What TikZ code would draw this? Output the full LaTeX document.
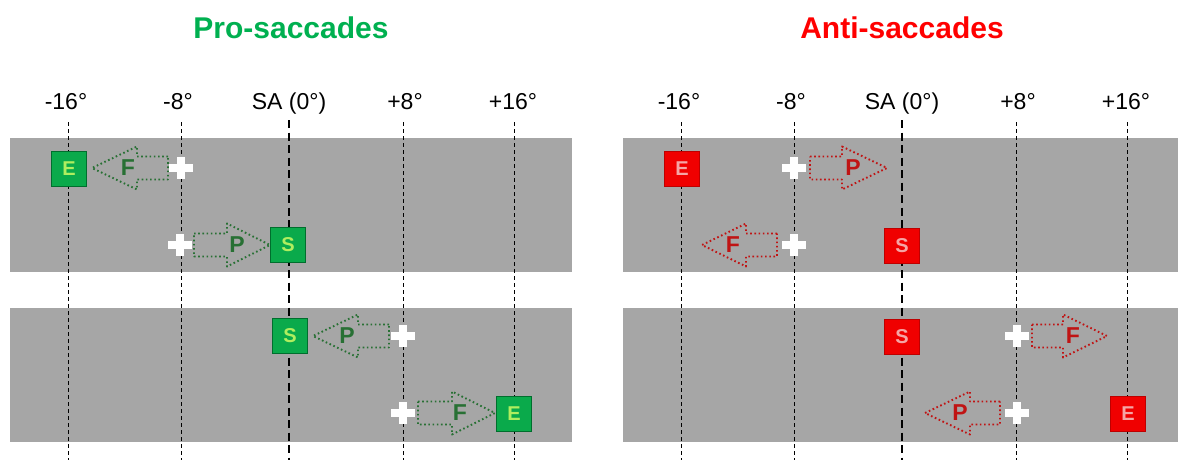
\documentclass[tikz,border=0pt]{standalone}
\usepackage{fontspec}
\setmainfont{Liberation Sans}
\definecolor{bandgray}{RGB}{166,166,166}
\definecolor{progreen}{RGB}{0,176,80}
\definecolor{sqgreen}{RGB}{10,170,75}
\definecolor{sqgreenborder}{RGB}{0,110,45}
\definecolor{lettergreen}{RGB}{175,238,95}
\definecolor{arrgreen}{RGB}{40,112,52}
\definecolor{antired}{RGB}{255,0,0}
\definecolor{sqred}{RGB}{240,0,0}
\definecolor{sqredborder}{RGB}{190,0,0}
\definecolor{letterred}{RGB}{245,165,165}
\definecolor{arrred}{RGB}{192,20,20}
\newcommand{\myBlockArrow}[5]{%
  \draw[#5] (#1,#4-11.5) -- (#2,#4-11.5) -- (#2,#4-21.5) -- (#3,#4)
    -- (#2,#4+21.5) -- (#2,#4+11.5) -- (#1,#4+11.5) -- cycle;}
\newcommand{\myPlus}[2]{%
  \fill[white] (#1-12,#2-4) rectangle (#1+12,#2+4);
  \fill[white] (#1-4,#2-11) rectangle (#1+4,#2+11);}
\tikzset{
  band/.style={fill=bandgray, draw=none},
  thinline/.style={black, line width=0.9pt, dash pattern=on 4pt off 3pt},
  saline/.style={black, line width=2.2pt, dash pattern=on 8pt off 4.5pt},
  axislabel/.style={font=\fontsize{23}{26}\selectfont, anchor=base, inner sep=0pt},
  title/.style={font=\fontsize{30}{34}\selectfont\bfseries, inner sep=0pt},
  gsq/.style={draw=sqgreenborder, line width=0.8pt, fill=sqgreen, minimum size=35pt, inner sep=0pt,
    text=lettergreen, font=\fontsize{20}{21}\selectfont\bfseries},
  rsq/.style={draw=sqredborder, line width=0.6pt, fill=sqred, minimum size=35pt, inner sep=0pt,
    text=letterred, font=\fontsize{20}{21}\selectfont\bfseries},
  garrow/.style={draw=arrgreen, line width=1.9pt, dash pattern=on 1.6pt off 2.6pt, line join=round},
  rarrow/.style={draw=arrred, line width=1.9pt, dash pattern=on 1.6pt off 2.6pt, line join=round},
  gletter/.style={text=arrgreen, font=\fontsize{23}{24}\selectfont\bfseries, inner sep=0pt},
  rletter/.style={text=arrred, font=\fontsize{23}{24}\selectfont\bfseries, inner sep=0pt},
}
\begin{document}
\begin{tikzpicture}[x=1pt,y=-1pt]
\useasboundingbox (0,0) rectangle (1178,460);
% ---------- titles ----------
\node[title, text=progreen] (tpro) at (291,28) {Pro-saccades};
\node[title, text=antired] (tanti) at (902,28) {Anti-saccades};
% ---------- bands ----------
\fill[band] (10,138) rectangle (572,272);
\fill[band] (10,308) rectangle (572,442);
\fill[band] (623,138) rectangle (1178,272);
\fill[band] (623,308) rectangle (1178,442);
% ---------- axis labels ----------
\foreach \o/\n in {0/L,613/R}{
  \node[axislabel] (m16\n) at (66+\o,109) {-16°};
  \node[axislabel] (m8\n) at (178+\o,109) {-8°};
  \node[axislabel] (sa\n) at (289+\o,109) {SA (0°)};
  \node[axislabel] (p8\n) at (405+\o,109) {+8°};
  \node[axislabel] (p16\n) at (513+\o,109) {+16°};
  \draw[thinline] (68+\o,122) -- (68+\o,460);
  \draw[thinline] (181+\o,122) -- (181+\o,460);
  \draw[saline] (289+\o,120) -- (289+\o,460);
  \draw[thinline] (403+\o,122) -- (403+\o,460);
  \draw[thinline] (514+\o,122) -- (514+\o,460);
}
% ---------- Pro-saccades ----------
\node[gsq] (gE1) at (69,169) {E};
\myBlockArrow{168}{137}{92}{168}{garrow}
\node[gletter] (gF1) at (128,168) {F};
\myPlus{181}{168}

\myPlus{180}{245}
\myBlockArrow{194}{227}{270}{245}{garrow}
\node[gletter] (gP2) at (237,245) {P};
\node[gsq] (gS2) at (288,245) {S};

\node[gsq] (gS3) at (290,336) {S};
\myBlockArrow{389}{358}{313}{336}{garrow}
\node[gletter] (gP3) at (347,336) {P};
\myPlus{403}{336}

\myPlus{403}{413}
\myBlockArrow{418}{452}{495}{413}{garrow}
\node[gletter] (gF4) at (460,413) {F};
\node[gsq] (gE4) at (514,414) {E};
% ---------- Anti-saccades ----------
\node[rsq] (rE1) at (682,169) {E};
\myPlus{794}{168}
\myBlockArrow{810}{842}{887}{168}{rarrow}
\node[rletter] (rP1) at (853,168) {P};

\myBlockArrow{777}{746}{702}{245}{rarrow}
\node[rletter] (rF2) at (733,245) {F};
\myPlus{794}{245}
\node[rsq] (rS2) at (902,246) {S};

\node[rsq] (rS3) at (902,337) {S};
\myPlus{1017}{336}
\myBlockArrow{1032}{1063}{1107}{336}{rarrow}
\node[rletter] (rF3) at (1073,336) {F};

\myBlockArrow{1000}{970}{925}{413}{rarrow}
\node[rletter] (rP4) at (960,413) {P};
\myPlus{1017}{413}
\node[rsq] (rE4) at (1128,414) {E};
\end{tikzpicture}
\end{document}
